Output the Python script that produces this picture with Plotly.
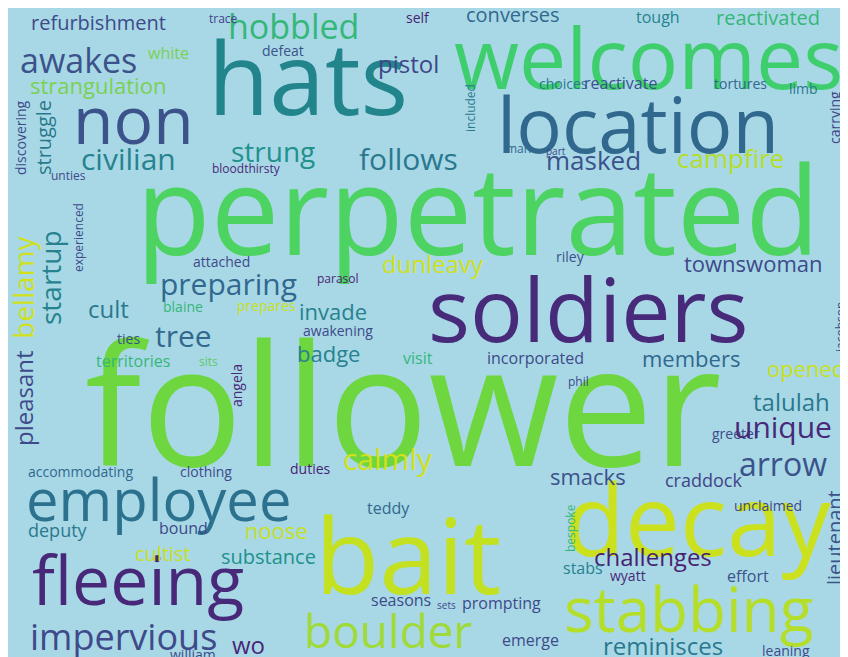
import plotly.graph_objects as go

# word cloud: word, centre x, centre y (pixels from top-left), font size, colour, vertical flag
words = ["perpetrated", "follower", "hats", "welcomes", "soldiers", "bait", "decay", "location",
         "non", "employee", "fleeing", "stabbing", "boulder", "impervious", "hobbled", "awakes",
         "strangulation", "refurbishment", "civilian", "strung", "follows", "masked", "campfire",
         "pistol", "converses", "reactivated", "tough", "trace", "self", "white", "defeat",
         "choices", "reactivate", "tortures", "limb", "carrying", "included", "man", "part",
         "bloodthirsty", "discovering", "struggle", "unties", "bellamy", "startup", "experienced",
         "attached", "preparing", "dunleavy", "riley", "townswoman", "cult", "blaine", "prepares",
         "parasol", "invade", "tree", "ties", "awakening", "badge", "visit", "incorporated",
         "members", "opened", "jacobson", "territories", "sits", "angela", "pleasant", "phil",
         "talulah", "greeter", "unique", "arrow", "accommodating", "clothing", "duties", "calmly",
         "smacks", "craddock", "unclaimed", "teddy", "bespoke", "lieutenant", "deputy", "bound",
         "noose", "cultist", "substance", "challenges", "stabs", "wyatt", "effort", "seasons",
         "sets", "prompting", "wo", "william", "emerge", "reminisces", "leaning"]
xs = [470, 395, 300, 640, 580, 400, 690, 630, 125, 150, 130, 680, 380, 115, 285, 70,
      90, 90, 120, 265, 400, 585, 722, 400, 505, 760, 650, 215, 410, 160, 275,
      555, 612, 732, 795, 826, 462, 510, 548, 238, 12, 35, 60, 15, 42, 70,
      213, 220, 425, 562, 745, 100, 175, 258, 330, 325, 175, 120, 330, 320, 410, 527,
      683, 798, 832, 125, 200, 228, 15, 570, 783, 728, 775, 775, 72, 198, 302, 380,
      580, 695, 760, 380, 562, 826, 50, 175, 268, 155, 260, 645, 575, 620, 740, 393,
      438, 493, 240, 185, 522, 655, 778]
ys = [200, 392, 68, 48, 300, 545, 510, 115, 110, 490, 570, 600, 622, 628, 18, 52,
      77, 14, 150, 143, 150, 152, 150, 55, 6, 9, 9, 10, 9, 45, 42,
      75, 75, 75, 80, 110, 100, 140, 143, 160, 130, 130, 167, 280, 270, 230,
      253, 275, 255, 248, 255, 300, 298, 297, 270, 303, 327, 330, 322, 345, 350, 350,
      350, 360, 320, 353, 353, 378, 390, 373, 393, 425, 418, 455, 463, 463, 460, 450,
      468, 472, 497, 500, 520, 530, 522, 520, 522, 545, 548, 548, 560, 567, 568, 592,
      597, 595, 636, 646, 632, 637, 642]
sizes = [122, 168, 100, 84, 88, 105, 98, 76, 66, 58, 68, 62, 46, 36, 34, 34,
         22, 20, 30, 28, 30, 26, 26, 24, 20, 20, 16, 12, 14, 16, 14,
         14, 16, 14, 14, 14, 12, 12, 10, 12, 14, 20, 12, 28, 28, 12,
         14, 30, 24, 14, 22, 24, 14, 14, 12, 22, 30, 14, 14, 22, 16, 16,
         22, 22, 12, 16, 12, 14, 24, 12, 24, 14, 30, 32, 14, 14, 14, 30,
         22, 18, 14, 16, 12, 20, 18, 16, 22, 20, 20, 24, 16, 14, 16, 16,
         10, 16, 24, 14, 16, 24, 14]
colors = ["#4cd361", "#6ed63f", "#22858c", "#3fce6e", "#472a7a", "#c3e021", "#cce11e", "#31688e",
          "#3b528b", "#2c728e", "#482878", "#b5de2b", "#a0da39", "#3e4a89", "#35b779", "#3b528b",
          "#7ad151", "#3e4a89", "#26828e", "#21918c", "#2a788e", "#3b528b", "#b5de2b",
          "#404688", "#31688e", "#35b779", "#26828e", "#414487", "#481f70", "#7ad151", "#3b528b",
          "#2a788e", "#3b528b", "#31688e", "#2a788e", "#414487", "#2a788e", "#31688e", "#3e4a89",
          "#482878", "#3e4a89", "#2a788e", "#3e4a89", "#d0e11c", "#26828e", "#3e4a89",
          "#3e4a89", "#31688e", "#d0e11c", "#3b528b", "#3e4a89", "#2a788e", "#35b779", "#c7e020",
          "#481f70", "#26828e", "#31688e", "#3b528b", "#3e4a89", "#26828e", "#35b779", "#3e4a89",
          "#31688e", "#c7e020", "#3e4a89", "#35b779", "#5ec962", "#482878", "#3e4a89", "#3e4a89",
          "#2a788e", "#3e4a89", "#482878", "#3b528b", "#31688e", "#3e4a89", "#481f70", "#d0e11c",
          "#3b528b", "#414487", "#3e4a89", "#31688e", "#35b779", "#3b528b", "#2a788e", "#3e4a89",
          "#c7e020", "#c7e020", "#21918c", "#481f70", "#26828e", "#482878", "#3b528b", "#3e4a89",
          "#3e4a89", "#3e4a89", "#482878", "#3e4a89", "#3e4a89", "#2a788e", "#3e4a89"]
vertical = {"carrying", "included", "discovering", "struggle", "bellamy", "startup",
            "experienced", "jacobson", "angela", "pleasant", "bespoke", "lieutenant"}

fig = go.Figure()
fig.add_trace(go.Scatter(x=[0, 848], y=[0, 657], mode="markers",
                         marker=dict(opacity=0), hoverinfo="skip", showlegend=False))

for w, x, y, s, c in zip(words, xs, ys, sizes, colors):
    fig.add_annotation(x=x, y=y, text=w, showarrow=False,
                       textangle=-90 if w in vertical else 0,
                       font=dict(family="Open Sans", size=s, color=c),
                       xanchor="center", yanchor="middle")

fig.update_layout(
    width=848, height=657,
    margin=dict(l=0, r=0, t=0, b=0),
    paper_bgcolor="#a8d8e6", plot_bgcolor="#a8d8e6",
    xaxis=dict(range=[0, 848], visible=False, fixedrange=True),
    yaxis=dict(range=[657, 0], visible=False, fixedrange=True),
)

fig.write_html("out.html")
